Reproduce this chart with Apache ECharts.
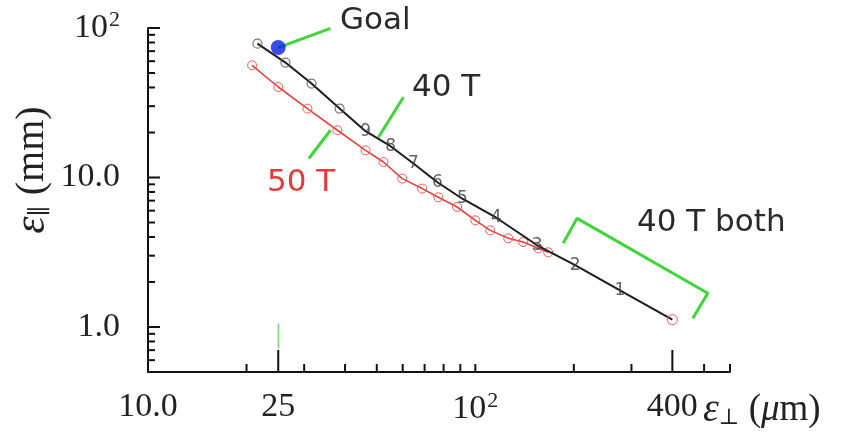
<!DOCTYPE html>
<html>
<head>
<meta charset="utf-8">
<script src="https://cdn.jsdelivr.net/npm/echarts@6/dist/echarts.min.js"></script>
<style>
  html, body { margin: 0; padding: 0; background: #fff; }
  #chart { width: 852px; height: 432px; }
</style>
</head>
<body>
<div id="chart"></div>
<script>
// 40 T curve (black)
var black40X = [21.6, 26.3, 31.6, 38.5, 46.2, 55.1, 64.7, 76.6, 91.3, 115.9, 154.5, 201.8, 276.7, 400];
var black40Y = [78.6, 58.7, 42.5, 28.9, 20.4, 16.2, 12.4, 9.29, 7.21, 5.38, 3.52, 2.59, 1.76, 1.12];
var black40Marks = ['o', 'o', 'o', 'o', '9', '8', '7', '6', '5', '4', '3', '2', '1', 'end'];

// 50 T curve (red)
var red50X = [20.8, 25.0, 30.7, 37.9, 46.2, 52.4, 59.8, 68.8, 77.1, 88.0, 100, 111.1, 126.1, 140.1, 155.6, 167];
var red50Y = [56.3, 40.3, 28.9, 20.7, 15.2, 12.7, 9.83, 8.43, 7.37, 6.35, 5.17, 4.43, 3.92, 3.70, 3.36, 3.16];

// goal point
var goalX = [25];
var goalY = [74];

// axis ticks and labels
var X_MIN = 10, X_MAX = 600, Y_MIN = 0.5, Y_MAX = 100;
var xMinorTicks = [20, 30, 40, 50, 60, 70, 80, 90, 100, 200, 300, 500, 600];
var xMajorTicks = [25, 400];
var xLabelValues = [10, 25, 100, 400];
var yMinorTicks = [0.5, 0.6, 0.7, 0.8, 0.9, 2, 3, 4, 5, 6, 7, 8, 9, 20, 30, 40, 50, 60, 70, 80, 90];
var yMajorTicks = [1, 10, 100];

// green annotation strokes, in data units
var goalLeader = [[25, 74], [36.1, 99.5]];
var leader40 = [[60.3, 34.4], [50.6, 18.6]];
var leader50 = [[36.1, 20.7], [31.0, 13.4]];
var bracket40 = [[185.5, 3.63], [204.7, 5.33], [513.3, 1.68], [461.9, 1.143]];
var goalTickMark = [[25, 1.058], [25, 0.72]];

var GREEN = '#3fd63a';
var SERIF = '"Liberation Serif", "DejaVu Serif", serif';
var SANS = '"DejaVu Sans", sans-serif';

function zip(xs, ys) {
  var out = [];
  for (var i = 0; i < xs.length; i++) out.push([xs[i], ys[i]]);
  return out;
}

var tickText = function (v) {
  if (Math.abs(v - 100) < 1e-6) return '{b|10}{p|2}';
  if (Math.abs(v - 10) < 1e-6) return '10.0';
  if (Math.abs(v - 1) < 1e-6) return '1.0';
  return String(Math.round(v));
};
var richLabel = {
  b: { fontFamily: SERIF, fontSize: 34, color: '#222' },
  p: { fontFamily: SERIF, fontSize: 22, color: '#222', padding: [0, 0, 16, 1] }
};

var blackLineData = zip(black40X, black40Y);
var circleData = [], digitData = [], endData = [];
for (var i = 0; i < black40Marks.length; i++) {
  var pt = [black40X[i], black40Y[i]];
  if (black40Marks[i] === 'o') circleData.push(pt);
  else if (black40Marks[i] === 'end') endData.push(pt);
  else digitData.push({ value: pt, name: black40Marks[i] });
}

var myChart = echarts.init(document.getElementById('chart'));

function greenLine(data, width) {
  return {
    type: 'line', data: data, symbol: 'none', silent: true, z: 3,
    lineStyle: { color: GREEN, width: width || 3 }
  };
}

// axis ticks pointing into the plot, placed through the axes' own scales
function tickSeries(axis, values, len, width) {
  var data = values.map(function (v) { return axis === 'x' ? [v, Y_MIN] : [X_MIN, v]; });
  return {
    type: 'custom', silent: true, clip: false, z: 8, data: data,
    encode: { x: 0, y: 1 },
    renderItem: function (params, api) {
      var p = api.coord([api.value(0), api.value(1)]);
      var shape = axis === 'x'
        ? { x1: p[0], y1: p[1], x2: p[0], y2: p[1] - len }
        : { x1: p[0], y1: p[1], x2: p[0] + len, y2: p[1] };
      return { type: 'line', shape: shape, style: { stroke: '#111', lineWidth: width } };
    }
  };
}

var option = {
  animation: false,
  backgroundColor: '#fff',
  grid: { left: 148, right: 122, top: 28, bottom: 60 },
  xAxis: {
    type: 'log', logBase: 10, min: X_MIN, max: X_MAX, position: 'bottom',
    axisLine: { onZero: false, lineStyle: { color: '#111', width: 2 } },
    axisTick: { show: false },
    axisLabel: {
      customValues: xLabelValues, margin: 18, color: '#222',
      fontFamily: SERIF, fontSize: 34,
      formatter: tickText, rich: richLabel
    },
    splitLine: { show: false }
  },
  yAxis: {
    type: 'log', logBase: 10, min: Y_MIN, max: Y_MAX, position: 'left',
    axisLine: { onZero: false, lineStyle: { color: '#111', width: 2 } },
    axisTick: { show: false },
    axisLabel: {
      customValues: yMajorTicks, margin: 28, color: '#222',
      fontFamily: SERIF, fontSize: 34,
      formatter: tickText, rich: richLabel
    },
    splitLine: { show: false }
  },
  series: [
    tickSeries('x', xMinorTicks, 8, 2),
    tickSeries('x', xMajorTicks, 22, 2),
    tickSeries('y', yMinorTicks, 7, 2),
    tickSeries('y', yMajorTicks, 12, 2),
    greenLine(goalLeader),
    greenLine(leader40),
    greenLine(leader50),
    greenLine(bracket40),
    greenLine(goalTickMark, 1),
    {
      name: '50 T', type: 'line', data: zip(red50X, red50Y), z: 4,
      symbol: 'circle', symbolSize: 9,
      lineStyle: { color: '#e8403c', width: 1.6 },
      itemStyle: { color: 'rgba(255,255,255,0)', borderColor: '#ec5a55', borderWidth: 1 }
    },
    {
      name: '40 T', type: 'line', data: blackLineData, z: 5,
      showSymbol: false, symbol: 'none',
      lineStyle: { color: '#1c1c1c', width: 2 }
    },
    {
      type: 'scatter', data: circleData, z: 6,
      symbol: 'circle', symbolSize: 9,
      itemStyle: { color: 'rgba(255,255,255,0)', borderColor: '#555', borderWidth: 1.2 }
    },
    {
      type: 'scatter', data: digitData, z: 6,
      symbol: 'circle', symbolSize: 1,
      itemStyle: { color: 'rgba(0,0,0,0)' },
      label: {
        show: true, position: 'inside', formatter: '{b}',
        fontFamily: SANS, fontSize: 17, color: '#3a3a3a'
      }
    },
    {
      type: 'scatter', data: endData, z: 6,
      symbol: 'circle', symbolSize: 10,
      itemStyle: { color: 'rgba(255,255,255,0)', borderColor: '#e06060', borderWidth: 1.2 }
    },
    {
      name: 'Goal', type: 'scatter', data: zip(goalX, goalY), z: 7,
      symbol: 'circle', symbolSize: 15,
      itemStyle: { color: '#0a1ee6' }
    }
  ],
  graphic: [
    { type: 'text', x: 340, y: 21, style: { text: 'Goal', font: '31px ' + SANS, fill: '#2a2a2a', textVerticalAlign: 'middle' } },
    { type: 'text', x: 412, y: 88, style: { text: '40 T', font: '31px ' + SANS, fill: '#2a2a2a', textVerticalAlign: 'middle' } },
    { type: 'text', x: 267, y: 183, style: { text: '50 T', font: '31px ' + SANS, fill: '#e53a36', textVerticalAlign: 'middle' } },
    { type: 'text', x: 637, y: 223, style: { text: '40 T both', font: '31px ' + SANS, fill: '#2a2a2a', textVerticalAlign: 'middle' } },
    {
      type: 'text', x: 703, y: 410,
      style: {
        text: '{e|ε}{s|⊥} ({m|μ}m)',
        font: '37px ' + SERIF, fill: '#222', textVerticalAlign: 'middle',
        rich: {
          e: { fontFamily: SERIF, fontStyle: 'italic', fontSize: 40, color: '#222' },
          s: { fontFamily: SERIF, fontSize: 22, color: '#222', padding: [16, 0, 0, 0] },
          m: { fontFamily: SERIF, fontStyle: 'italic', fontSize: 37, color: '#222' }
        }
      }
    },
    {
      type: 'text', x: 32, y: 170, rotation: Math.PI / 2,
      style: {
        text: '{e|ε}{s|∥} (mm)',
        font: '40px ' + SERIF, fill: '#222', textAlign: 'center', textVerticalAlign: 'middle',
        rich: {
          e: { fontFamily: SERIF, fontStyle: 'italic', fontSize: 44, color: '#222' },
          s: { fontFamily: SERIF, fontSize: 24, color: '#222', padding: [18, 0, 0, 0] }
        }
      }
    }
  ]
};

if (option && typeof option === 'object') {
  myChart.setOption(option, true);
}
</script>
</body>
</html>
